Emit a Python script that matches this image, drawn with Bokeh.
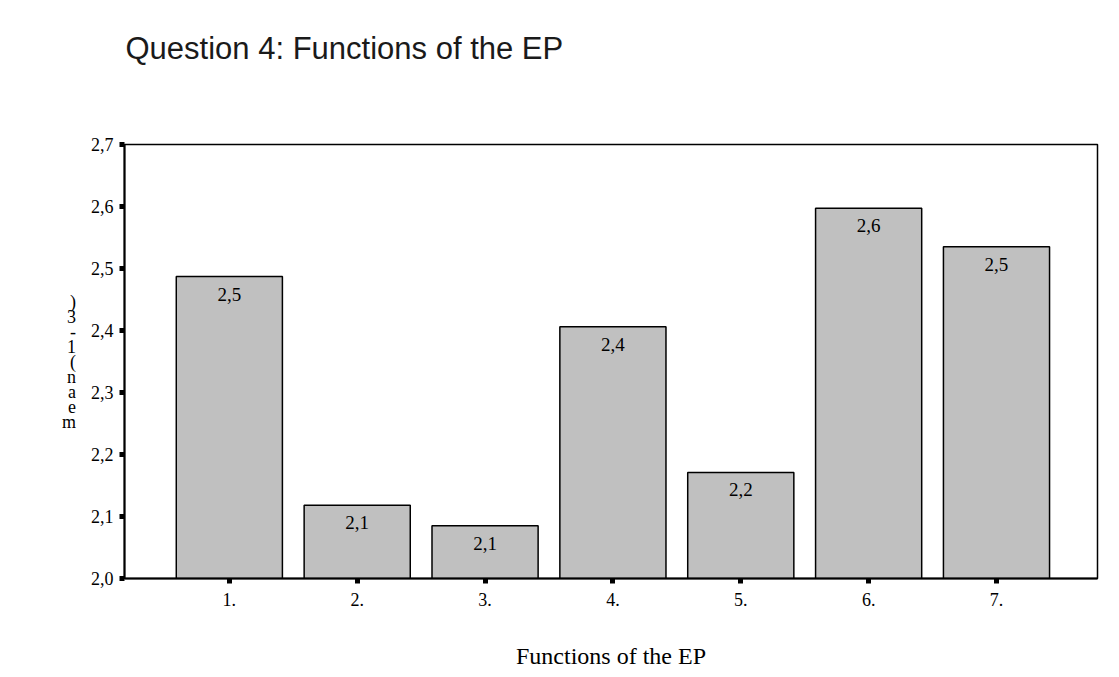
from bokeh.plotting import figure
from bokeh.models import ColumnDataSource, FixedTicker, Title, Range1d
from bokeh.core.properties import value
from bokeh.embed import file_html
from bokeh.resources import INLINE

categories = ["1.", "2.", "3.", "4.", "5.", "6.", "7."]
positions = [1, 2, 3, 4, 5, 6, 7]
means = [2.487, 2.118, 2.085, 2.406, 2.171, 2.597, 2.535]
value_labels = ["2,5", "2,1", "2,1", "2,4", "2,2", "2,6", "2,5"]
y_ticks = [2.0, 2.1, 2.2, 2.3, 2.4, 2.5, 2.6, 2.7]
y_tick_labels = ["2,0", "2,1", "2,2", "2,3", "2,4", "2,5", "2,6", "2,7"]
y_axis_label = ")\n3\n-\n1\n(\nn\na\ne\nm"

src = ColumnDataSource(dict(x=positions, top=means, lab=value_labels))

p = figure(width=1119, height=677, output_backend="svg", toolbar_location=None,
           x_range=Range1d(0.18, 7.79), y_range=Range1d(2.0, 2.7),
           min_border_left=124, min_border_right=22, min_border_top=144, min_border_bottom=99)
p.background_fill_color = "white"
p.border_fill_color = "white"
p.grid.visible = False
p.outline_line_color = "black"
p.outline_line_width = 1.5

p.vbar(x="x", top="top", bottom=2.0, width=0.83, source=src,
       fill_color="#c0c0c0", line_color="black", line_width=1.5)
p.text(x="x", y="top", text="lab", source=src, text_align="center", text_baseline="top",
       y_offset=11, text_font=value("Liberation Serif"), text_font_size="19px", text_color="black")

spacer = Title(text=" ", text_font_size="10px", standoff=66)
p.add_layout(spacer, "above")
t = Title(text="Question 4: Functions of the EP", text_font="Liberation Sans",
          text_font_size="31px", text_font_style="normal", text_color="#1a1a1a",
          align="left", offset=1, standoff=0)
p.add_layout(t, "above")

for ax in (p.xaxis[0], p.yaxis[0]):
    ax.axis_line_color = "black"
    ax.axis_line_width = 2
    ax.major_tick_line_color = "black"
    ax.major_tick_line_width = 5
    ax.major_tick_out = 5
    ax.major_tick_in = 0
    ax.minor_tick_line_color = None
    ax.major_label_text_font = "Liberation Serif"
    ax.major_label_text_font_size = "18px"
    ax.major_label_text_color = "black"
    ax.axis_label_text_color = "black"

p.xaxis.ticker = FixedTicker(ticks=positions)
p.xaxis.major_label_overrides = {k: v for k, v in zip(positions, categories)}
p.xaxis.major_label_standoff = 9
p.xaxis.axis_label = "Functions of the EP"
p.xaxis.axis_label_text_font = "Liberation Serif"
p.xaxis.axis_label_text_font_size = "24px"
p.xaxis.axis_label_text_font_style = "normal"
p.xaxis.axis_label_standoff = 34

p.yaxis.ticker = FixedTicker(ticks=y_ticks)
p.yaxis.major_label_overrides = {k: v for k, v in zip(y_ticks, y_tick_labels)}
p.yaxis.major_label_standoff = 6
p.yaxis.axis_label = y_axis_label
p.yaxis.axis_label_orientation = "horizontal"
p.yaxis.axis_label_text_font = "Liberation Serif"
p.yaxis.axis_label_text_font_size = "18px"
p.yaxis.axis_label_text_font_style = "normal"
p.yaxis.axis_label_text_line_height = 0.75
p.yaxis.axis_label_standoff = 12

open("out.html", "w").write(file_html(p, INLINE))
